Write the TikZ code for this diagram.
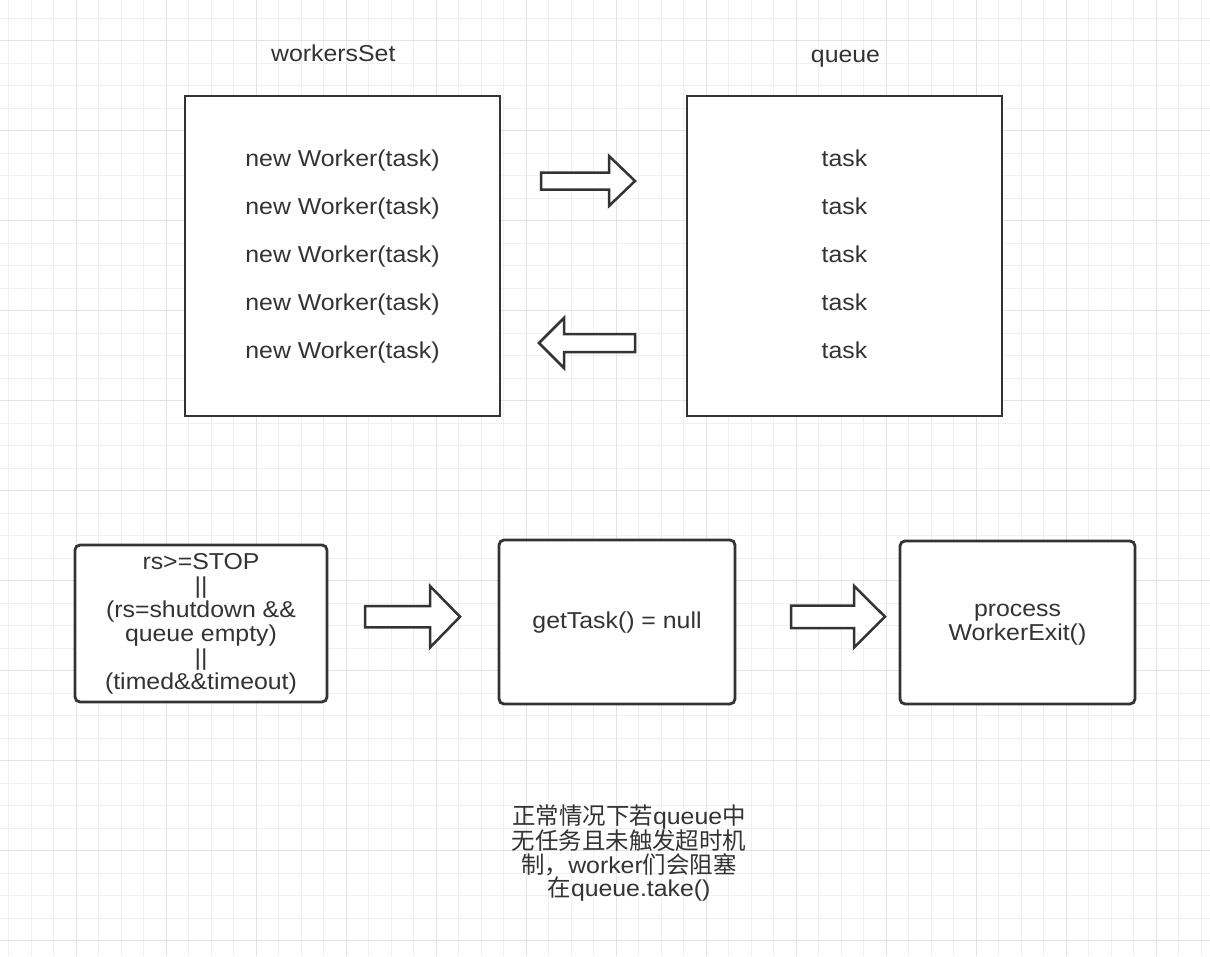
\documentclass[tikz,border=0pt]{standalone}
\usepackage{fontspec}
\setmainfont[FakeStretch=1.08]{Liberation Sans}
\newfontfamily\cjk[Scale=1.02]{Noto Sans CJK SC}
\definecolor{ink}{HTML}{333333}
\newcommand\tp{\rule{0pt}{17pt}}
\newcommand\bt{\rule[-5pt]{0pt}{5pt}}
\begin{document}
\begin{tikzpicture}[x=1pt,y=-1pt,
  minorline/.style={draw=black!6, line width=1pt},
  majorline/.style={draw=black!11, line width=1.2pt},
  box/.style={draw=ink, line width=2.8pt, fill=white, inner sep=0pt, text=ink, align=center, font=\fontsize{23}{48}\selectfont},
  rbox/.style={box, rounded corners=5pt, font=\fontsize{23}{24}\selectfont},
  blockarrow/.style={draw=ink, line width=2.5pt, fill=white, line join=miter},
  lbl/.style={text=ink, font=\fontsize{23}{24}\selectfont, inner sep=0pt}
]
\useasboundingbox (0,0) rectangle (1210,956);
\fill[white] (0,0) rectangle (1210,956);
% grid
\foreach \i in {0,...,53} {\draw[minorline] ({8.8+22.5*\i},0) -- ({8.8+22.5*\i},956);}
\foreach \j in {0,...,41} {\draw[minorline] (0,{18.2+22.5*\j}) -- (1210,{18.2+22.5*\j});}
\foreach \i in {0,...,12} {\draw[majorline] ({76.3+90*\i},0) -- ({76.3+90*\i},956);}
\foreach \j in {0,...,10} {\draw[majorline] (0,{40.7+90*\j}) -- (1210,{40.7+90*\j});}

% top boxes
\node[box, minimum width=315pt, minimum height=320pt] (workers) at (342.5,256)
  {\tp new Worker(task)\\new Worker(task)\\new Worker(task)\\new Worker(task)\\new Worker(task)\bt};
\node[box, minimum width=315pt, minimum height=320pt] (queue) at (844.5,256)
  {\tp task\\task\\task\\task\\task\bt};
\node[lbl, anchor=base] (workersLbl) at (333.3,61.7) {workersSet};
\node[lbl, anchor=base] (queueLbl) at (845.5,62) {queue};

% top block arrows
\draw[blockarrow] (541,172.5) -- (609,172.5) -- (609,156) -- (635,181) -- (609,206) -- (609,189.5) -- (541,189.5) -- cycle;
\draw[blockarrow] (635,334) -- (564,334) -- (564,318) -- (539,343) -- (564,368) -- (564,352) -- (635,352) -- cycle;

% bottom boxes
\node[rbox, minimum width=252pt, minimum height=157pt] (cond) at (201,623.5)
  {\tp rs>=STOP\\||\\(rs=shutdown \&\&\\queue empty)\\||\\(timed\&\&timeout)\bt};
\node[rbox, minimum width=236pt, minimum height=164pt] (gettask) at (617,622)
  {\tp getTask() = null\bt};
\node[rbox, minimum width=235pt, minimum height=163pt, font=\fontsize{23}{23.3}\selectfont] (exit) at (1017.5,622.5)
  {\tp process\\WorkerExit()\bt};

% bottom block arrows
\draw[blockarrow] (365,606) -- (430,606) -- (430,586) -- (460,616.7) -- (430,647.5) -- (430,627.3) -- (365,627.3) -- cycle;
\draw[blockarrow] (791,605.5) -- (854,605.5) -- (854,586) -- (885,616.7) -- (854,647.5) -- (854,628) -- (791,628) -- cycle;

% note
\node[lbl, align=center, font=\fontsize{23}{23.7}\selectfont] (note) at (629,853)
  {{\cjk 正常情况下若}queue{\cjk 中}\\{\cjk 无任务且未触发超时机}\\{\cjk 制，}worker{\cjk 们会阻塞}\\{\cjk 在}queue.take()};
\end{tikzpicture}
\end{document}
